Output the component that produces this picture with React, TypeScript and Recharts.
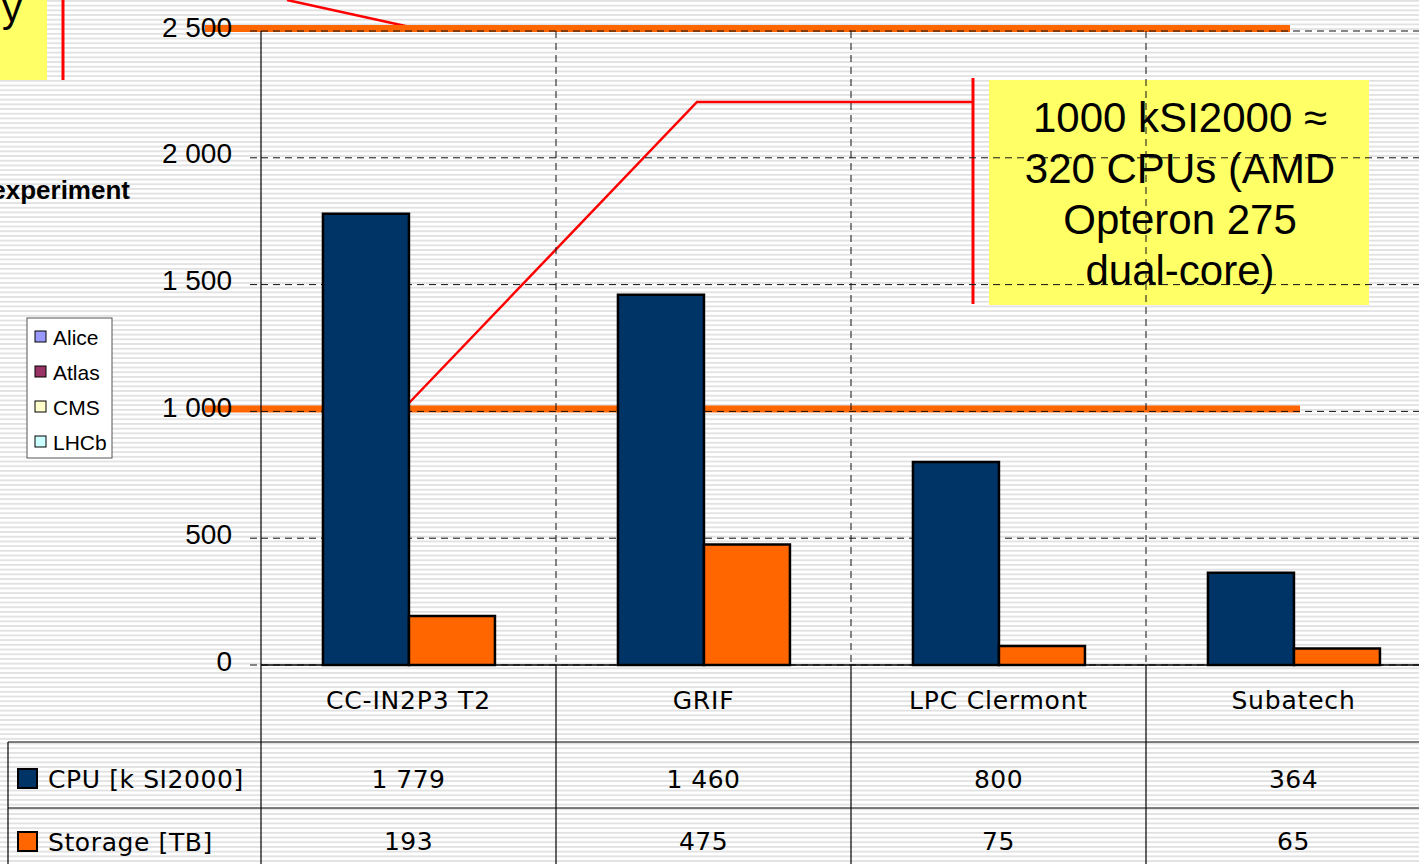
import React from 'react';
import { BarChart, Bar, XAxis, YAxis, CartesianGrid, ReferenceLine } from 'recharts';

const sites = ['CC-IN2P3 T2', 'GRIF', 'LPC Clermont', 'Subatech'];
const cpuValues = [1779, 1460, 800, 364];
const storageValues = [193, 475, 75, 65];
const yTicks = [0, 500, 1000, 1500, 2000, 2500];
const seriesNames = ['CPU [k SI2000]', 'Storage [TB]'];
const seriesColors = ['#003366', '#FF6600'];
const experiments = ['Alice', 'Atlas', 'CMS', 'LHCb'];
const experimentColors = ['#9999FF', '#993366', '#FFFFCC', '#CCFFFF'];
const referenceLevels = [2500, 1000];
const calloutLines = ['1000 kSI2000 \u2248', '320 CPUs (AMD', 'Opteron 275', 'dual-core)'];

const data = sites.map((site, i) => ({ site, cpu: cpuValues[i], storage: storageValues[i] }));

const CHART_W = 1460;
const CHART_H = 864;
const PLOT_TOP = 31;
const TABLE_FONT = '"DejaVu Sans", sans-serif';
const ARIAL = '"Liberation Sans", Arial, sans-serif';

const fmt = (v: number) =>
  v >= 1000 ? `${Math.floor(v / 1000)} ${String(v % 1000).padStart(3, '0')}` : String(v);

const XTick = (props: any) => {
  const { x, y, payload } = props;
  const i = payload?.index ?? props.index ?? 0;
  const half = payload?.offset || 147.5;
  const row = data[i];
  return (
    <g>
      {i === 0 && (
        <line x1={x - half} y1={y} x2={x - half} y2={CHART_H} stroke="#000" strokeWidth={1.2} />
      )}
      <line x1={x + half} y1={PLOT_TOP} x2={x + half} y2={y} stroke="#111" strokeWidth={1} strokeDasharray="7 5" />
      <line x1={x + half} y1={y} x2={x + half} y2={CHART_H} stroke="#000" strokeWidth={1.2} />
      <text x={x} y={y + 35} textAnchor="middle" dominantBaseline="central" fontFamily={TABLE_FONT} fontSize={25} letterSpacing={0.8} fill="#000">
        {row.site}
      </text>
      <text x={x} y={y + 114} textAnchor="middle" dominantBaseline="central" fontFamily={TABLE_FONT} fontSize={25} letterSpacing={0.5} fill="#000">
        {fmt(row.cpu)}
      </text>
      <text x={x} y={y + 176} textAnchor="middle" dominantBaseline="central" fontFamily={TABLE_FONT} fontSize={25} letterSpacing={0.5} fill="#000">
        {fmt(row.storage)}
      </text>
    </g>
  );
};

const YTick = (props: any) => {
  const { x, y, payload } = props;
  return (
    <text x={x} y={y - 4} textAnchor="end" dominantBaseline="central" fontFamily={ARIAL} fontSize={28} fill="#000">
      {fmt(payload.value)}
    </text>
  );
};

const orangeShape = (leftExt: number, rightCut: number) => (p: any) => (
  <line x1={p.x1 - leftExt} y1={p.y1 - 2.5} x2={p.x2 - rightCut} y2={p.y2 - 2.5} stroke="#FF6600" strokeWidth={7} />
);

const Background = () => (
  <svg width={1419} height={864} style={{ position: 'absolute', left: 0, top: 0 }}>
    <defs>
      <pattern id="stripes" width="8" height="4.7" patternUnits="userSpaceOnUse">
        <rect x="0" y="0" width="8" height="1.8" fill="#e1e1e1" />
      </pattern>
    </defs>
    <rect x={0} y={0} width={1419} height={864} fill="#fff" />
    <rect x={0} y={0} width={1419} height={864} fill="url(#stripes)" />

    {/* top-left partial callout */}
    <rect x={-5} y={-5} width={52} height={85} fill="#FFFF66" />
    <text x={22} y={22} textAnchor="end" fontFamily={ARIAL} fontSize={40} fill="#000">y</text>
    <line x1={63} y1={0} x2={63} y2={80} stroke="#FF0000" strokeWidth={3} />
    <line x1={287} y1={0} x2={410} y2={27} stroke="#FF0000" strokeWidth={2.5} />

    <text x={130} y={199} textAnchor="end" fontFamily={ARIAL} fontWeight="bold" fontSize={26} fill="#000">experiment</text>

    {/* experiment legend */}
    <rect x={27} y={318} width={85} height={140} fill="#fff" stroke="#555" strokeWidth={1} />
    {experiments.map((name, i) => (
      <g key={name}>
        <rect x={35} y={331 + i * 35} width={11} height={11} fill={experimentColors[i]} stroke="#000" strokeWidth={1} />
        <text x={53} y={337 + i * 35} dominantBaseline="central" fontFamily={ARIAL} fontSize={21} fill="#000">{name}</text>
      </g>
    ))}

    {/* main callout */}
    <rect x={989} y={80} width={380} height={225} fill="#FFFF66" />
    {calloutLines.map((t, i) => (
      <text key={i} x={1180} y={117 + i * 51} textAnchor="middle" dominantBaseline="central" fontFamily={ARIAL} fontSize={42} fill="#000">{t}</text>
    ))}
    <polyline points="409,403 697,102 973,102" fill="none" stroke="#FF0000" strokeWidth={2.5} />
    <line x1={973} y1={78} x2={973} y2={304} stroke="#FF0000" strokeWidth={3} />

    {/* data table frame */}
    <line x1={8} y1={742} x2={1419} y2={742} stroke="#000" strokeWidth={1.2} />
    <line x1={8} y1={808} x2={1419} y2={808} stroke="#000" strokeWidth={1.2} />
    <line x1={8} y1={742} x2={8} y2={864} stroke="#000" strokeWidth={1.2} />
    {seriesNames.map((name, i) => (
      <g key={name}>
        <rect x={18} y={769 + i * 63} width={19} height={19} fill={seriesColors[i]} stroke="#000" strokeWidth={2} />
        <text x={48} y={779 + i * 63} dominantBaseline="central" fontFamily={TABLE_FONT} fontSize={25} letterSpacing={0.6} fill="#000">{name}</text>
      </g>
    ))}
  </svg>
);

export default function App() {
  return (
    <div style={{ position: 'fixed', left: 0, top: 0, width: 1419, height: 864, overflow: 'hidden', background: '#fff' }}>
      <Background />
      <div style={{ position: 'absolute', left: 0, top: 0 }}>
        <BarChart
          width={CHART_W}
          height={CHART_H}
          data={data}
          margin={{ top: PLOT_TOP, right: 19, bottom: 122, left: 0 }}
          barCategoryGap="21%"
          barGap={0}
        >
          <ReferenceLine y={referenceLevels[0]} shape={orangeShape(56, 151)} zIndex={-150} />
          <ReferenceLine y={referenceLevels[1]} shape={orangeShape(56, 141)} zIndex={-150} />
          <CartesianGrid vertical={false} stroke="#111" strokeDasharray="7 5" />
          <XAxis
            dataKey="site"
            height={77}
            tickLine={false}
            tickSize={0}
            tickMargin={0}
            interval={0}
            axisLine={{ stroke: '#000', strokeWidth: 1.5 }}
            tick={(p: any) => <XTick {...p} />}
          />
          <YAxis
            width={261}
            domain={[0, 2500]}
            ticks={yTicks}
            interval={0}
            tickSize={11}
            tickMargin={18}
            axisLine={{ stroke: '#000', strokeWidth: 1.2 }}
            tickLine={{ stroke: '#111', strokeDasharray: '7 4' }}
            tick={(p: any) => <YTick {...p} />}
          />
          <Bar dataKey="cpu" name={seriesNames[0]} fill={seriesColors[0]} stroke="#000" strokeWidth={2.5} isAnimationActive={false} />
          <Bar dataKey="storage" name={seriesNames[1]} fill={seriesColors[1]} stroke="#000" strokeWidth={2.5} isAnimationActive={false} />
        </BarChart>
      </div>
    </div>
  );
}
